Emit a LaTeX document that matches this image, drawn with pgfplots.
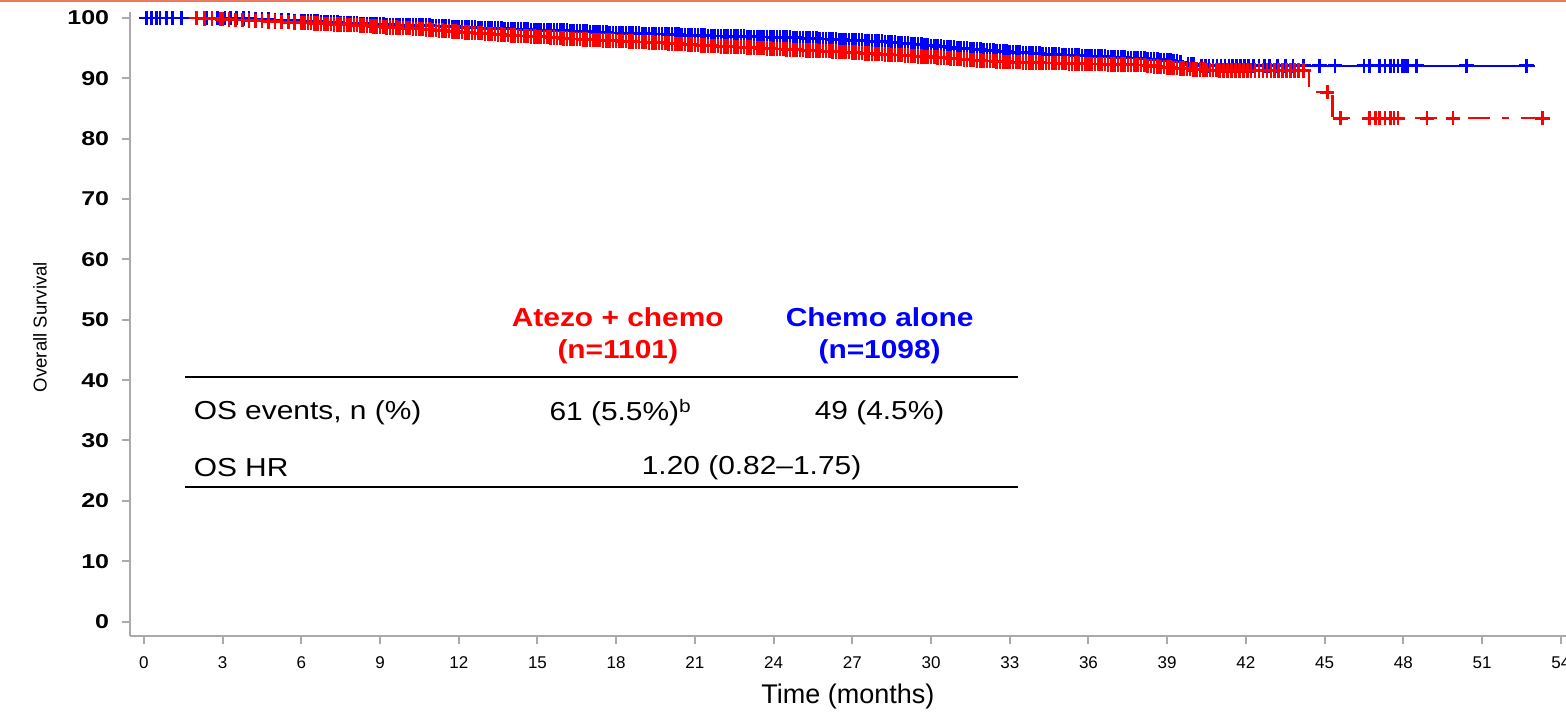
\documentclass[border=0pt]{standalone}
\usepackage{fontspec}
\setmainfont{Liberation Sans}
\newfontfamily\tablefont[FakeStretch=1.15]{Liberation Sans}
\newfontfamily\ytickfont[FakeStretch=1.25]{Liberation Sans}
\usepackage{pgfplots}
\pgfplotsset{compat=1.18}
\definecolor{axgray}{RGB}{170,170,170}
\definecolor{topline}{RGB}{235,120,95}
\definecolor{kmred}{RGB}{255,0,0}
\definecolor{kmblue}{RGB}{0,0,255}

\begin{document}
\begin{tikzpicture}
\path[use as bounding box] (-65pt,-37.5pt) rectangle (718pt,318pt);
\draw[topline, line width=1.25pt] (-65pt,317.4pt) -- (718pt,317.4pt);
\begin{axis}[
  scale only axis, width=718pt, height=312pt,
  xmin=-0.53, xmax=54.2, ymin=-2.4, ymax=101,
  axis lines*=left,
  axis line style={axgray, line width=1pt},
  tick style={axgray, line width=1pt},
  tick align=outside, major tick length=4pt,
  xtick={0,3,...,54}, ytick={0,10,...,100},
  /pgf/number format/assume math mode=true,
  xticklabel style={font=\fontsize{8.5}{10}\selectfont, text=black, yshift=-2.5pt},
  yticklabel style={font=\ytickfont\bfseries\fontsize{10}{11}\selectfont, text=black, xshift=-2.5pt},
  xlabel={Time (months)},
  every axis x label/.style={at={(axis description cs:0.5,0)}, anchor=center, yshift=-30.5pt, font=\fontsize{13.5}{15}\selectfont},
  ylabel={Overall Survival},
  every axis y label/.style={at={(axis description cs:-0.0627,0.495)}, anchor=center, rotate=90, font=\fontsize{9.3}{10}\selectfont},
  clip=false,
  line width=1.2pt,
]
% chemo alone
\addplot[kmblue, const plot, mark=+, mark size=3.6pt, mark options={line width=1.3pt}] coordinates {
(0.1,100) (0.3,100) (0.48,100) (0.62,100) (0.86,100) (1.1,100) (1.43,100) (2.4,100) (2.6,100) (2.8,100) (3.09,100) (3.3,100) (3.53,100) (3.8,99.95)
(4,99.9) (4.25,99.85) (4.5,99.8) (4.75,99.75)
(5,99.7) (5.25,99.65) (5.5,99.6) (5.75,99.55)
(6,99.5) (6.125,99.5) (6.25,99.45) (6.375,99.45) (6.5,99.4) (6.625,99.4) (6.75,99.35) (6.875,99.35)
(7,99.3) (7.125,99.3) (7.25,99.25) (7.375,99.25) (7.5,99.2) (7.625,99.2) (7.75,99.15) (7.875,99.15)
(8,99.1) (8.125,99.1) (8.25,99.05) (8.375,99.05) (8.5,99.0) (8.625,99.0) (8.75,98.95) (8.875,98.95)
(9,98.9) (9.125,98.9) (9.25,98.88) (9.375,98.88) (9.5,98.85) (9.625,98.85) (9.75,98.83) (9.875,98.83)
(10,98.8) (10.125,98.8) (10.25,98.78) (10.375,98.78) (10.5,98.75) (10.625,98.75) (10.75,98.73) (10.875,98.73)
(11,98.7) (11.125,98.7) (11.25,98.65) (11.375,98.65) (11.5,98.6) (11.625,98.6) (11.75,98.55) (11.875,98.55)
(12,98.5) (12.125,98.5) (12.25,98.45) (12.375,98.45) (12.5,98.4) (12.625,98.4) (12.75,98.35) (12.875,98.35)
(13,98.3) (13.125,98.3) (13.25,98.28) (13.375,98.28) (13.5,98.25) (13.625,98.25) (13.75,98.23) (13.875,98.23)
(14,98.2) (14.125,98.2) (14.25,98.15) (14.375,98.15) (14.5,98.1) (14.625,98.1) (14.75,98.05) (14.875,98.05)
(15,98.0) (15.125,98.0) (15.25,97.98) (15.375,97.98) (15.5,97.95) (15.625,97.95) (15.75,97.93) (15.875,97.93)
(16,97.9) (16.125,97.9) (16.25,97.85) (16.375,97.85) (16.5,97.8) (16.625,97.8) (16.75,97.75) (16.875,97.75)
(17,97.7) (17.125,97.7) (17.25,97.65) (17.375,97.65) (17.5,97.6) (17.625,97.6) (17.75,97.55) (17.875,97.55)
(18,97.5) (18.125,97.5) (18.25,97.48) (18.375,97.48) (18.5,97.45) (18.625,97.45) (18.75,97.43) (18.875,97.43)
(19,97.4) (19.125,97.4) (19.25,97.38) (19.375,97.38) (19.5,97.35) (19.625,97.35) (19.75,97.33) (19.875,97.33)
(20,97.3) (20.125,97.3) (20.25,97.25) (20.375,97.25) (20.5,97.2) (20.625,97.2) (20.75,97.15) (20.875,97.15)
(21,97.1) (21.125,97.1) (21.25,97.08) (21.375,97.08) (21.5,97.05) (21.625,97.05) (21.75,97.03) (21.875,97.03)
(22,97.0) (22.125,97.0) (22.25,96.98) (22.375,96.98) (22.5,96.95) (22.625,96.95) (22.75,96.93) (22.875,96.93)
(23,96.9) (23.125,96.9) (23.25,96.88) (23.375,96.88) (23.5,96.85) (23.625,96.85) (23.75,96.83) (23.875,96.83)
(24,96.8) (24.125,96.8) (24.25,96.78) (24.375,96.78) (24.5,96.75) (24.625,96.75) (24.75,96.73) (24.875,96.73)
(25,96.7) (25.125,96.7) (25.25,96.65) (25.375,96.65) (25.5,96.6) (25.625,96.6) (25.75,96.55) (25.875,96.55)
(26,96.5) (26.125,96.5) (26.25,96.45) (26.375,96.45) (26.5,96.4) (26.625,96.4) (26.75,96.35) (26.875,96.35)
(27,96.3) (27.125,96.3) (27.25,96.25) (27.375,96.25) (27.5,96.2) (27.625,96.2) (27.75,96.15) (27.875,96.15)
(28,96.1) (28.125,96.1) (28.25,96.03) (28.375,96.03) (28.5,95.95) (28.625,95.95) (28.75,95.88) (28.875,95.88)
(29,95.8) (29.125,95.8) (29.25,95.7) (29.375,95.7) (29.5,95.6) (29.625,95.6) (29.75,95.5) (29.875,95.5)
(30,95.4) (30.125,95.4) (30.25,95.3) (30.375,95.3) (30.5,95.2) (30.625,95.2) (30.75,95.1) (30.875,95.1)
(31,95.0) (31.125,95.0) (31.25,94.93) (31.375,94.93) (31.5,94.85) (31.625,94.85) (31.75,94.78) (31.875,94.78)
(32,94.7) (32.125,94.7) (32.25,94.63) (32.375,94.63) (32.5,94.55) (32.625,94.55) (32.75,94.48) (32.875,94.48)
(33,94.4) (33.125,94.4) (33.25,94.33) (33.375,94.33) (33.5,94.25) (33.625,94.25) (33.75,94.18) (33.875,94.18)
(34,94.1) (34.125,94.1) (34.25,94.05) (34.375,94.05) (34.5,94.0) (34.625,94.0) (34.75,93.95) (34.875,93.95)
(35,93.9) (35.125,93.9) (35.25,93.85) (35.375,93.85) (35.5,93.8) (35.625,93.8) (35.75,93.75) (35.875,93.75)
(36,93.7) (36.125,93.7) (36.25,93.65) (36.375,93.65) (36.5,93.6) (36.625,93.6) (36.75,93.55) (36.875,93.55)
(37,93.5) (37.125,93.5) (37.25,93.45) (37.375,93.45) (37.5,93.4) (37.625,93.4) (37.75,93.35) (37.875,93.35)
(38,93.3) (38.125,93.3) (38.25,93.23) (38.375,93.23) (38.5,93.15) (38.625,93.15) (38.75,93.08) (38.875,93.08)
(39,93.0) (39.125,93.0) (39.25,92.9) (39.375,92.9) (39.5,92.7)
};
\addplot[kmblue, const plot, mark=none] coordinates {(0,100) (0.1,100)};
\addplot[kmblue, const plot, mark=none] coordinates {(39.5,92.7) (39.7,92.3) (40.2,92.1) (53,92.1)};
\addplot[kmblue, only marks, mark=+, mark size=3.6pt, mark options={line width=1.3pt}] coordinates {
(39.8,92.3) (39.9,92.3) (40.0,92.3) (40.3,92.1) (40.45,92.1) (40.6,92.1) (40.75,92.1) (40.9,92.1) (41.05,92.1) (41.2,92.1) (41.35,92.1) (41.5,92.1) (41.65,92.1) (41.8,92.1) (41.95,92.1) (42.1,92.1) (42.3,92.1) (42.5,92.1) (42.7,92.1) (42.9,92.1) (43.2,92.1) (43.5,92.1) (43.8,92.1) (44.2,92.1) (44.8,92.1) (45.4,92.1) (46.5,92.1) (46.7,92.1) (47.1,92.1) (47.3,92.1) (47.5,92.1) (47.65,92.1) (47.8,92.1) (47.95,92.1) (48.05,92.1) (48.15,92.1) (48.5,92.1) (50.4,92.1) (52.7,92.1)
};
% atezo + chemo
\addplot[kmred, const plot, mark=none, dash pattern=on 11pt off 6pt on 3.5pt off 6pt] coordinates {(0,100) (2.0,100)};
\addplot[kmred, const plot, mark=+, mark size=3.6pt, mark options={solid, line width=1.3pt}, dash pattern=on 11pt off 6pt on 3.5pt off 6pt] coordinates {
(2.0,100) (2.3,99.95) (2.6,99.9) (2.9,99.85)
(3,99.8) (3.25,99.75) (3.5,99.7) (3.75,99.65)
(4,99.6) (4.25,99.55) (4.5,99.5) (4.75,99.45)
(5,99.4) (5.25,99.35) (5.5,99.3) (5.75,99.25)
(6,99.2) (6.125,99.2) (6.25,99.15) (6.375,99.15) (6.5,99.1) (6.625,99.1) (6.75,99.05) (6.875,99.05)
(7,99.0) (7.125,99.0) (7.25,98.95) (7.375,98.95) (7.5,98.9) (7.625,98.9) (7.75,98.85) (7.875,98.85)
(8,98.8) (8.125,98.8) (8.25,98.73) (8.375,98.73) (8.5,98.65) (8.625,98.65) (8.75,98.58) (8.875,98.58)
(9,98.5) (9.125,98.5) (9.25,98.45) (9.375,98.45) (9.5,98.4) (9.625,98.4) (9.75,98.35) (9.875,98.35)
(10,98.3) (10.125,98.3) (10.25,98.23) (10.375,98.23) (10.5,98.15) (10.625,98.15) (10.75,98.08) (10.875,98.08)
(11,98.0) (11.125,98.0) (11.25,97.93) (11.375,97.93) (11.5,97.85) (11.625,97.85) (11.75,97.78) (11.875,97.78)
(12,97.7) (12.125,97.7) (12.25,97.63) (12.375,97.63) (12.5,97.55) (12.625,97.55) (12.75,97.48) (12.875,97.48)
(13,97.4) (13.125,97.4) (13.25,97.33) (13.375,97.33) (13.5,97.25) (13.625,97.25) (13.75,97.18) (13.875,97.18)
(14,97.1) (14.125,97.1) (14.25,97.05) (14.375,97.05) (14.5,97.0) (14.625,97.0) (14.75,96.95) (14.875,96.95)
(15,96.9) (15.125,96.9) (15.25,96.83) (15.375,96.83) (15.5,96.75) (15.625,96.75) (15.75,96.68) (15.875,96.68)
(16,96.6) (16.125,96.6) (16.25,96.55) (16.375,96.55) (16.5,96.5) (16.625,96.5) (16.75,96.45) (16.875,96.45)
(17,96.4) (17.125,96.4) (17.25,96.35) (17.375,96.35) (17.5,96.3) (17.625,96.3) (17.75,96.25) (17.875,96.25)
(18,96.2) (18.125,96.2) (18.25,96.15) (18.375,96.15) (18.5,96.1) (18.625,96.1) (18.75,96.05) (18.875,96.05)
(19,96.0) (19.125,96.0) (19.25,95.95) (19.375,95.95) (19.5,95.9) (19.625,95.9) (19.75,95.85) (19.875,95.85)
(20,95.8) (20.125,95.8) (20.25,95.73) (20.375,95.73) (20.5,95.65) (20.625,95.65) (20.75,95.58) (20.875,95.58)
(21,95.5) (21.125,95.5) (21.25,95.45) (21.375,95.45) (21.5,95.4) (21.625,95.4) (21.75,95.35) (21.875,95.35)
(22,95.3) (22.125,95.3) (22.25,95.25) (22.375,95.25) (22.5,95.2) (22.625,95.2) (22.75,95.15) (22.875,95.15)
(23,95.1) (23.125,95.1) (23.25,95.05) (23.375,95.05) (23.5,95.0) (23.625,95.0) (23.75,94.95) (23.875,94.95)
(24,94.9) (24.125,94.9) (24.25,94.85) (24.375,94.85) (24.5,94.8) (24.625,94.8) (24.75,94.75) (24.875,94.75)
(25,94.7) (25.125,94.7) (25.25,94.65) (25.375,94.65) (25.5,94.6) (25.625,94.6) (25.75,94.55) (25.875,94.55)
(26,94.5) (26.125,94.5) (26.25,94.45) (26.375,94.45) (26.5,94.4) (26.625,94.4) (26.75,94.35) (26.875,94.35)
(27,94.3) (27.125,94.3) (27.25,94.23) (27.375,94.23) (27.5,94.15) (27.625,94.15) (27.75,94.08) (27.875,94.08)
(28,94.0) (28.125,94.0) (28.25,93.95) (28.375,93.95) (28.5,93.9) (28.625,93.9) (28.75,93.85) (28.875,93.85)
(29,93.8) (29.125,93.8) (29.25,93.73) (29.375,93.73) (29.5,93.65) (29.625,93.65) (29.75,93.58) (29.875,93.58)
(30,93.5) (30.125,93.5) (30.25,93.43) (30.375,93.43) (30.5,93.35) (30.625,93.35) (30.75,93.28) (30.875,93.28)
(31,93.2) (31.125,93.2) (31.25,93.13) (31.375,93.13) (31.5,93.05) (31.625,93.05) (31.75,92.98) (31.875,92.98)
(32,92.9) (32.125,92.9) (32.25,92.85) (32.375,92.85) (32.5,92.8) (32.625,92.8) (32.75,92.75) (32.875,92.75)
(33,92.7) (33.125,92.7) (33.25,92.68) (33.375,92.68) (33.5,92.65) (33.625,92.65) (33.75,92.63) (33.875,92.63)
(34,92.6) (34.125,92.6) (34.25,92.58) (34.375,92.58) (34.5,92.55) (34.625,92.55) (34.75,92.53) (34.875,92.53)
(35,92.5) (35.125,92.5) (35.25,92.48) (35.375,92.48) (35.5,92.45) (35.625,92.45) (35.75,92.43) (35.875,92.43)
(36,92.4) (36.125,92.4) (36.25,92.38) (36.375,92.38) (36.5,92.35) (36.625,92.35) (36.75,92.33) (36.875,92.33)
(37,92.3) (37.125,92.3) (37.25,92.28) (37.375,92.28) (37.5,92.25) (37.625,92.25) (37.75,92.23) (37.875,92.23)
(38,92.2) (38.125,92.2) (38.25,92.1) (38.375,92.1) (38.5,92.0) (38.625,92.0) (38.75,91.9) (38.875,91.9)
(39,91.8) (39.125,91.8) (39.25,91.73) (39.375,91.73) (39.5,91.65) (39.625,91.65) (39.75,91.58) (39.875,91.58)
(40,91.5) (40.125,91.5) (40.25,91.45) (40.375,91.45) (40.5,91.4) (40.625,91.4) (40.75,91.35) (40.875,91.35)
(41,91.3) (41.15,91.3) (41.3,91.3) (41.45,91.3) (41.6,91.3) (41.75,91.3) (41.9,91.3) (42.05,91.3) (42.2,91.3) (42.35,91.3) (42.5,91.3) (42.65,91.3) (42.8,91.3) (42.95,91.3) (43.1,91.3) (43.25,91.3) (43.4,91.3) (43.55,91.3) (43.7,91.3) (43.85,91.3) (44.0,91.3) (44.2,91.3)
};
\addplot[kmred, const plot, mark=none, dash pattern=on 11pt off 6pt on 3.5pt off 6pt] coordinates {(44.2,91.3) (44.4,87.7) (45.3,83.4) (53.5,83.4)};
\addplot[kmred, only marks, mark=+, mark size=3.6pt, mark options={line width=1.3pt}] coordinates {
(45.1,87.7) (45.6,83.4) (46.7,83.4) (46.95,83.4) (47.1,83.4) (47.3,83.4) (47.5,83.4) (47.65,83.4) (47.8,83.4) (48.9,83.4) (49.9,83.4) (53.3,83.4)
};
% summary table
\draw[black, line width=1.25pt] (axis cs:1.56,40.53) -- (axis cs:33.3,40.53);
\draw[black, line width=1.25pt] (axis cs:1.56,22.31) -- (axis cs:33.3,22.31);
\node[font=\tablefont\bfseries\fontsize{13}{16}\selectfont, text=kmred, align=center] at (axis cs:18.06,47.3) {Atezo + chemo\\(n=1101)};
\node[font=\tablefont\bfseries\fontsize{13}{16}\selectfont, text=kmblue, align=center] at (axis cs:28.04,47.3) {Chemo alone\\(n=1098)};
\node[font=\tablefont\fontsize{13}{16}\selectfont, anchor=west] at (axis cs:1.6,34.6) {OS events, n (\%)};
\node[font=\tablefont\fontsize{13}{16}\selectfont] at (axis cs:18.17,34.6) {61 (5.5\%)\textsuperscript{b}};
\node[font=\tablefont\fontsize{13}{16}\selectfont] at (axis cs:28.04,34.6) {49 (4.5\%)};
\node[font=\tablefont\fontsize{13}{16}\selectfont, anchor=west] at (axis cs:1.6,25.5) {OS HR};
\node[font=\tablefont\fontsize{13}{16}\selectfont] at (axis cs:23.16,25.5) {1.20 (0.82–1.75)};
\end{axis}
\end{tikzpicture}
\end{document}
